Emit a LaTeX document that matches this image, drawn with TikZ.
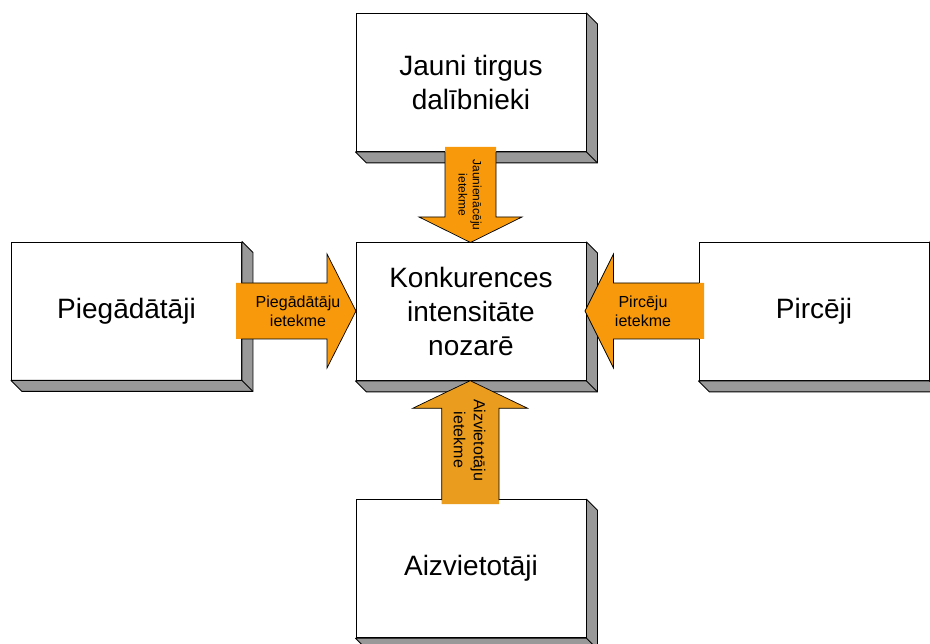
\documentclass[tikz,border=0pt]{standalone}
\usepackage{fontspec}
\setmainfont{Liberation Sans}
\usetikzlibrary{calc}
\definecolor{arrowA}{RGB}{247,153,11}
\definecolor{arrowB}{RGB}{233,156,30}
\definecolor{shadowgrey}{RGB}{153,153,153}
\tikzset{
  forcebox/.style={draw=black, fill=white, line width=0.9pt, minimum width=230pt,
    minimum height=138pt, inner sep=0pt, align=center,
    font=\fontsize{28}{34}\selectfont},
  shadowside/.style={draw=black, fill=shadowgrey, line width=0.9pt, line join=round},
  arrowfill/.style={fill=#1, draw=none},
  arrowedge/.style={draw=black, line width=0.7pt, line join=miter},
  arrowlabel/.style={inner sep=0pt, align=center, font=\fontsize{16}{19}\selectfont},
  vlabel/.style={inner sep=0pt, align=center, rotate=-90},
}
\newcommand{\boxshadow}[1]{%
  \draw[shadowside] (#1.north east) -- ++(11,11) -- ($(#1.south east)+(11,11)$)
    -- ($(#1.south west)+(11,11)$) -- (#1.south west) -- (#1.south east) -- cycle;
  \draw[shadowside] (#1.south east) -- ++(11,11);
}
\begin{document}
\begin{tikzpicture}[x=1pt,y=-1pt]
\useasboundingbox (0,0) rectangle (930,644);
% boxes
\node[forcebox] (top) at (471,82.5) {Jauni tirgus\\dalībnieki};
\boxshadow{top}
\node[forcebox] (mid) at (471,311.5) {Konkurences\\intensitāte\\nozarē};
\boxshadow{mid}
\node[forcebox] (left) at (126.5,311) {Piegādātāji};
\boxshadow{left}
\node[forcebox] (right) at (814,311.5) {Pircēji};
\boxshadow{right}
\node[forcebox] (bot) at (471,568.75) {Aizvietotāji};
\boxshadow{bot}
% top arrow (down)
\fill[arrowfill=arrowA] (445,147) -- (445,217) -- (419,217) -- (470.5,242.5) -- (522,217) -- (496,217) -- (496,147) -- cycle;
\draw[arrowedge] (445,152) -- (445,217) -- (419,217) -- (470.5,242.5) -- (522,217) -- (496,217) -- (496,152);
\node[vlabel, font=\fontsize{12}{14.3}\selectfont] (lt) at (470,195) {Jaunienācēju\\ietekme};
% left arrow (right-pointing)
\fill[arrowfill=arrowA] (236,283) -- (327,283) -- (327,254) -- (356,311) -- (327,368) -- (327,339) -- (236,339) -- cycle;
\draw[arrowedge] (241,283) -- (327,283) -- (327,254) -- (356,311) -- (327,368) -- (327,339) -- (241,339);
\node[arrowlabel] (ll) at (298,311) {Piegādātāju\\ietekme};
% right arrow (left-pointing)
\fill[arrowfill=arrowA] (704,283) -- (613.5,283) -- (613.5,254) -- (585,311) -- (613.5,368) -- (613.5,339) -- (704,339) -- cycle;
\draw[arrowedge] (699,283) -- (613.5,283) -- (613.5,254) -- (585,311) -- (613.5,368) -- (613.5,339) -- (699,339);
\node[arrowlabel] (lr) at (643,311) {Pircēju\\ietekme};
% bottom arrow (up)
\fill[arrowfill=arrowB] (441.7,504) -- (441.7,408.3) -- (412.7,408.3) -- (470.2,380.7) -- (527.7,408.3) -- (499,408.3) -- (499,504) -- cycle;
\draw[arrowedge] (441.7,500) -- (441.7,408.3) -- (412.7,408.3) -- (470.2,380.7) -- (527.7,408.3) -- (499,408.3) -- (499,500);
\node[vlabel, font=\fontsize{16}{20}\selectfont] (lb) at (469.5,440) {Aizvietotāju\\ietekme};
\end{tikzpicture}
\end{document}
